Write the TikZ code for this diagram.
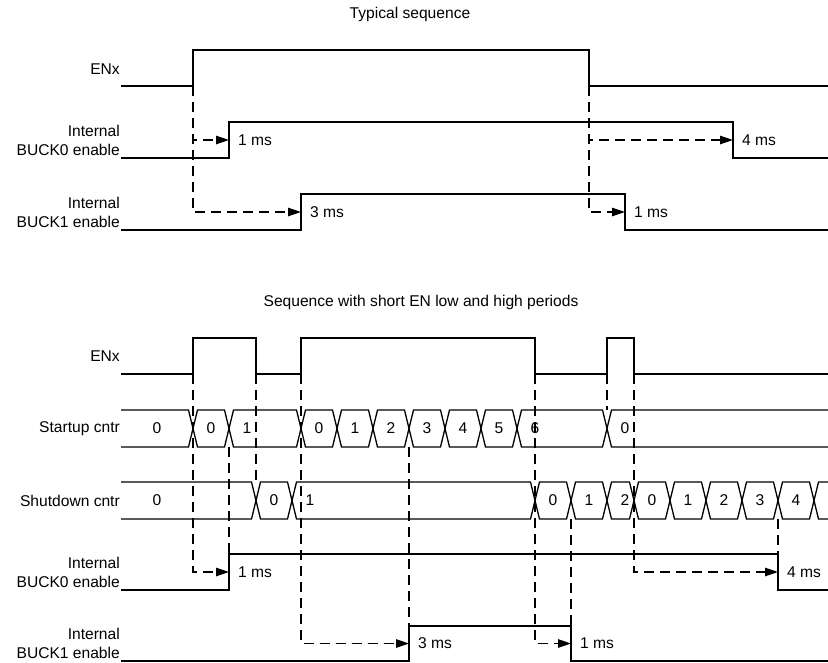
\documentclass[tikz,border=0pt]{standalone}
\usepackage{fontspec}
\setmainfont{Liberation Sans}
\usetikzlibrary{arrows.meta, positioning, calc}

% one value cell of a counter bus: from, to, top, bottom
\newcommand{\buscell}[4]{%
    \draw[sig] (#1,{(#3+#4)/2}) -- (#1+4.5,#3) -- (#2-4.5,#3) -- (#2,{(#3+#4)/2})
        -- (#2-4.5,#4) -- (#1+4.5,#4) -- cycle;}

\begin{document}
\begin{tikzpicture}[x=1pt, y=-1pt,
    every node/.style={font=\fontsize{15.6}{19}\selectfont},
    sig/.style={line width=1.3pt},
    dline/.style={line width=1.2pt, dash pattern=on 10pt off 6pt},
    arr/.style={dline, -{Triangle[length=13pt, width=8.5pt]}},
    lbl/.style={anchor=east, align=right, inner sep=0pt},
    ms/.style={anchor=west, inner sep=0pt, xshift=9pt},
    val/.style={inner sep=0pt}]
    \useasboundingbox (0,0) rectangle (828,662);

    % --- Typical sequence ---
    \node (titleA) at (410,14) {Typical sequence};
    \node[lbl] (enA) at (120,69) {ENx};
    \node[lbl] (bkA0) at (120,140.5) {Internal\\BUCK0 enable};
    \node[lbl] (bkA1) at (120,212) {Internal\\BUCK1 enable};

    \draw[sig] (121,86) -- (193,86) -- (193,50) -- (589,50) -- (589,86) -- (828,86);
    \draw[sig] (121,158) -- (229,158) -- (229,122) -- (733,122) -- (733,158) -- (828,158);
    \draw[sig] (121,230) -- (301,230) -- (301,194) -- (625,194) -- (625,230) -- (828,230);

    % delays
    \coordinate (enAup) at (193,86);
    \coordinate (enAdn) at (589,86);
    \coordinate (bA0up) at (229,140);
    \coordinate (bA0dn) at (733,140);
    \coordinate (bA1up) at (301,212);
    \coordinate (bA1dn) at (625,212);
    \draw[arr] (enAup) |- (bA0up);
    \draw[arr] (enAup) |- (bA1up);
    \draw[arr] (enAdn) |- (bA0dn);
    \draw[arr] (enAdn) |- (bA1dn);
    \node[ms] (tA0up) at (bA0up) {1 ms};
    \node[ms] (tA1up) at (bA1up) {3 ms};
    \node[ms] (tA0dn) at (bA0dn) {4 ms};
    \node[ms] (tA1dn) at (bA1dn) {1 ms};

    % --- Sequence with short EN pulses ---
    \node (titleB) at (421,302) {Sequence with short EN low and high periods};
    \node[lbl] (enB) at (120,356) {ENx};
    \node[lbl] (suB) at (120,428.5) {Startup cntr};
    \node[lbl] (sdB) at (120,500.5) {Shutdown cntr};
    \node[lbl] (bkB0) at (120,572) {Internal\\BUCK0 enable};
    \node[lbl] (bkB1) at (120,643.5) {Internal\\BUCK1 enable};

    \draw[sig] (121,374) -- (193,374) -- (193,338) -- (256,338) -- (256,374) -- (301,374)
        -- (301,338) -- (535,338) -- (535,374) -- (607,374) -- (607,338) -- (634,338)
        -- (634,374) -- (828,374);
    \draw[sig] (121,590) -- (229,590) -- (229,554) -- (778,554) -- (778,590) -- (828,590);
    \draw[sig] (121,661) -- (409,661) -- (409,626) -- (571,626) -- (571,661) -- (828,661);

    % Startup counter
    \draw[sig] (121,410) -- (188.5,410) -- (193,428.5) -- (188.5,447) -- (121,447);
    \node[val] (su0) at (157,428.5) {0};
    \foreach \a/\b/\v [count=\i] in {193/229/0, 229/301/1, 301/337/0, 337/373/1,
        373/409/2, 409/445/3, 445/481/4, 481/517/5, 517/607/6} {
        \buscell{\a}{\b}{410}{447}
        \node[val] (su\i) at (\a+18,428.5) {\v};
    }
    \draw[sig] (828,410) -- (611.5,410) -- (607,428.5) -- (611.5,447) -- (828,447);
    \node[val] (su10) at (625,428.5) {0};

    % Shutdown counter
    \draw[sig] (121,482) -- (251.5,482) -- (256,500.5) -- (251.5,519) -- (121,519);
    \node[val] (sd0) at (157,500.5) {0};
    \foreach \a/\b/\v [count=\i] in {256/292/0, 292/535/1, 535/571/0, 571/607/1,
        607/634/2, 634/670/0, 670/706/1, 706/742/2, 742/778/3, 778/814/4} {
        \buscell{\a}{\b}{482}{519}
        \node[val] (sd\i) at (\a+18,500.5) {\v};
    }
    \draw[sig] (828,482) -- (818.5,482) -- (814,500.5) -- (818.5,519) -- (828,519);

    % delays
    \coordinate (enBup1) at (193,374);
    \coordinate (enBup2) at (301,374);
    \coordinate (enBdn1) at (535,374);
    \coordinate (enBdn2) at (634,374);
    \coordinate (bB0up) at (229,572);
    \coordinate (bB1up) at (409,643.5);
    \coordinate (bB1dn) at (571,643.5);
    \coordinate (bB0dn) at (778,572);
    \draw[arr] (enBup1) |- (bB0up);
    \draw[arr] (enBup2) |- (bB1up);
    \draw[arr] (enBdn1) |- (bB1dn);
    \draw[arr] (enBdn2) |- (bB0dn);
    \foreach \x/\ya/\yb in {229/447/554, 256/374/482, 409/447/626,
        571/519/626, 607/374/410, 778/519/554} {
        \draw[dline] (\x,\ya) -- (\x,\yb);
    }
    \node[ms] (tB0up) at (bB0up) {1 ms};
    \node[ms] (tB1up) at (bB1up) {3 ms};
    \node[ms] (tB1dn) at (bB1dn) {1 ms};
    \node[ms] (tB0dn) at (bB0dn) {4 ms};
\end{tikzpicture}
\end{document}
